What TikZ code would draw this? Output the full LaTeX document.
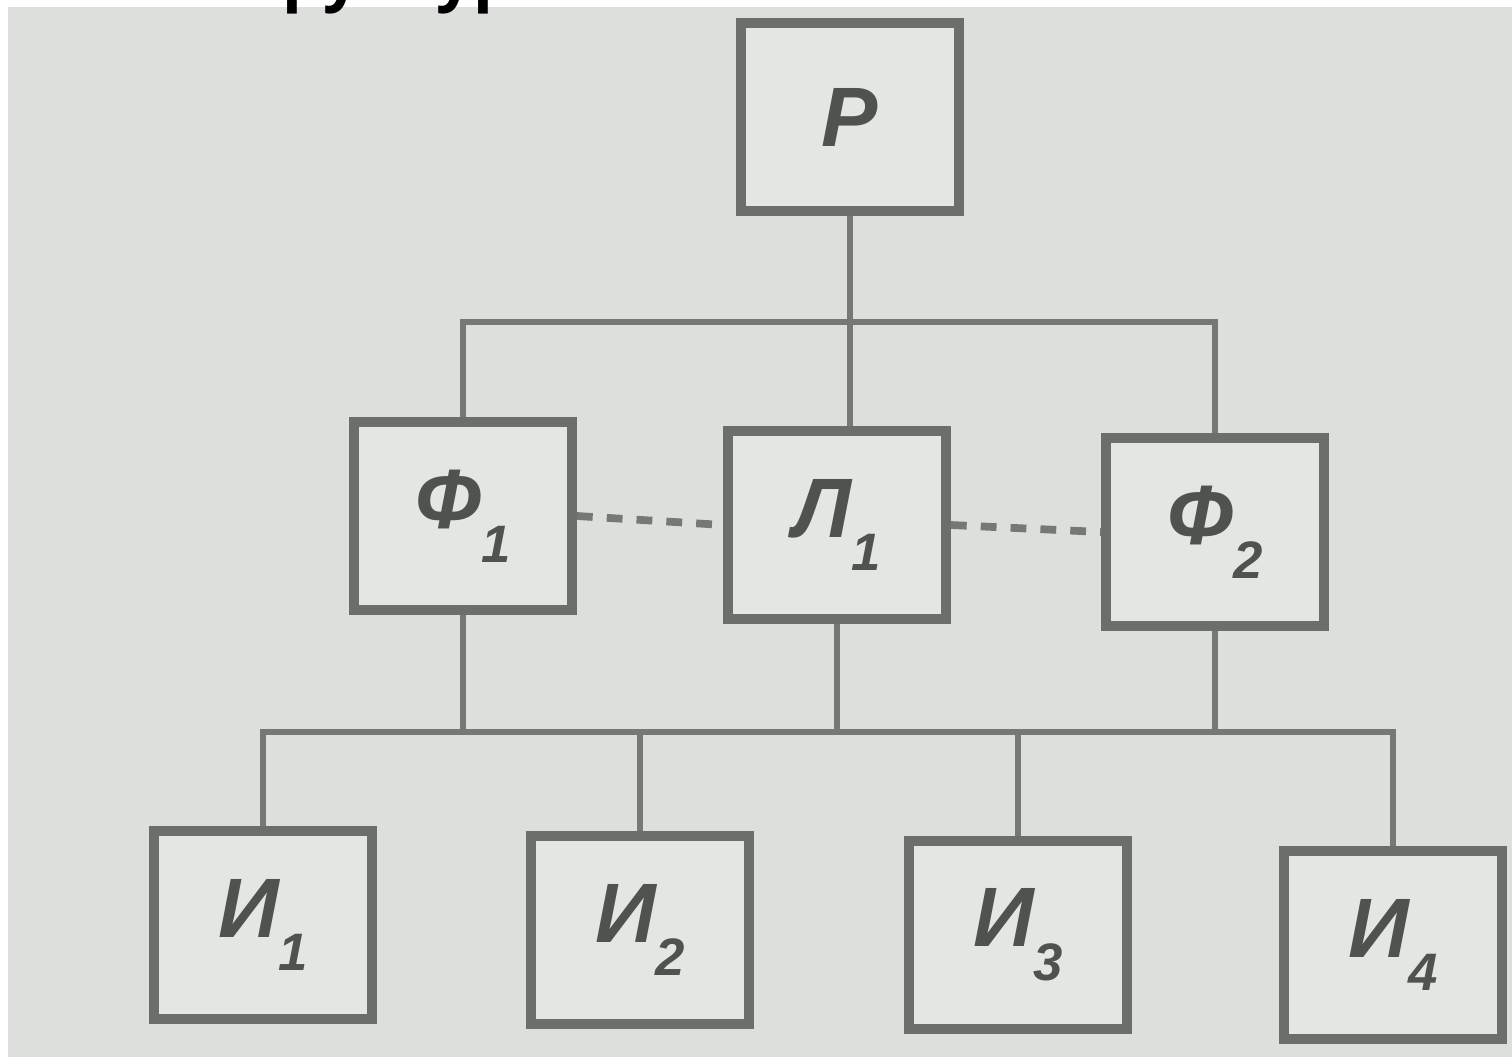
\documentclass[tikz,border=0pt]{standalone}
\usepackage{fontspec}
\setmainfont{Liberation Sans}
\newfontfamily\titlefont{Open Sans}
\usepackage{tikz}
\usetikzlibrary{positioning}

\definecolor{paper}{RGB}{220,223,220}
\definecolor{boxfill}{RGB}{228,230,227}
\definecolor{ink}{RGB}{108,110,107}
\definecolor{wire}{RGB}{118,120,116}
\definecolor{letter}{RGB}{80,82,79}
\newcommand{\lowidx}[1]{\raisebox{-0.40em}{\fontsize{30}{30}\selectfont #1}}

\begin{document}
\begin{tikzpicture}[x=0.02cm, y=-0.02cm]
			\tikzstyle{unit} = [draw=ink, fill=boxfill, line width=5.6pt, minimum width=4.36cm, minimum height=3.76cm, inner sep=0pt, text=letter, font=\fontsize{48}{48}\selectfont\bfseries\itshape]
			\tikzstyle{bus} = [draw=wire, line width=3.4pt]
			\tikzstyle{link} = [draw=wire, line width=4.4pt, dash pattern=on 9pt off 8pt]
			\useasboundingbox (0,0) rectangle (1512,1057);
			\fill[white] (0,0) rectangle (1512,1057);
			\fill[paper] (8,7) rectangle (1512,1057);
			\begin{scope}
			\path
			node[unit] (P) at (850,117) {Р}
			node[unit] (F1) at (463,516) {Ф\lowidx{1}}
			node[unit] (L1) at (837,525) {Л\lowidx{1}}
			node[unit] (F2) at (1215,532) {Ф\lowidx{2}}
			node[unit] (I1) at (263,925) {И\lowidx{1}}
			node[unit] (I2) at (640,930) {И\lowidx{2}}
			node[unit] (I3) at (1018,935) {И\lowidx{3}}
			node[unit] (I4) at (1393,945) {И\lowidx{4}};
			\coordinate (topbus) at (850,322);
			\coordinate (lowbus) at (830,732);
			% upper level
			\draw[bus] (P.south) -- (P.south |- L1.north);
			\draw[bus] (F1.north) |- (topbus) -| (F2.north);
			% lower level
			\draw[bus] (I1.north) |- (lowbus) -| (I4.north);
			\draw[bus] (I2.north) -- (I2.north |- lowbus);
			\draw[bus] (I3.north) -- (I3.north |- lowbus);
			\draw[bus] (F1.south) -- (F1.south |- lowbus);
			\draw[bus] (L1.south) -- (L1.south |- lowbus);
			\draw[bus] (F2.south) -- (F2.south |- lowbus);
			\draw[link] (F1.east) -- (L1.west);
			\draw[link] (L1.east) -- (F2.west);
			\end{scope}
			\node[anchor=base west, inner sep=0pt, font=\titlefont\bfseries\fontsize{37}{37}\selectfont] (title) at (205,-1) {Структура};
\end{tikzpicture}
\end{document}
